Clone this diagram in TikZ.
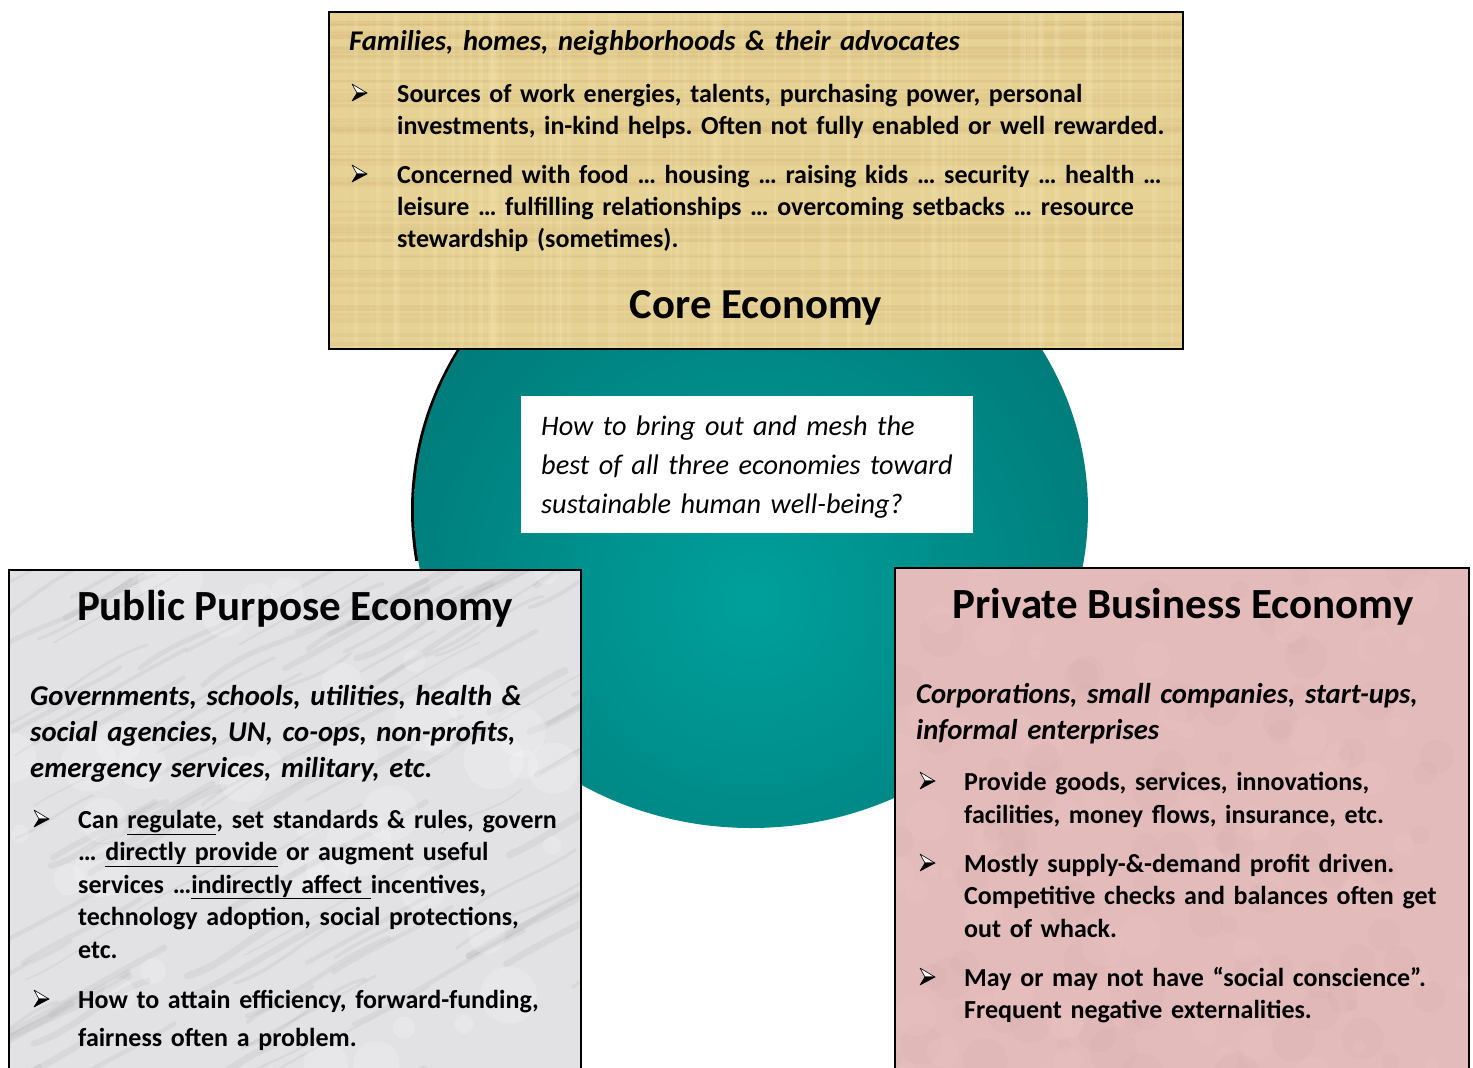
\documentclass[tikz,border=0pt]{standalone}
\usepackage{fontspec}
\setmainfont{Carlito}
\definecolor{papyrus}{RGB}{231,210,150}
\definecolor{papyrusdark}{RGB}{200,170,105}
\definecolor{papyruslight}{RGB}{245,230,180}
\definecolor{marble}{RGB}{226,226,228}
\definecolor{marblevein}{RGB}{140,140,145}
\definecolor{pinkpaper}{RGB}{228,187,187}
\definecolor{pinkdark}{RGB}{205,160,160}
\definecolor{pinklight}{RGB}{240,205,205}
\definecolor{tealdark}{RGB}{0,92,94}
\definecolor{teallight}{RGB}{0,160,155}
\frenchspacing
\begin{document}
\begin{tikzpicture}[x=1pt,y=-1pt,
  panel/.style={draw=black, line width=1.5pt},
  para/.style={anchor=base west, inner sep=0pt, align=left, text width=#1},
  title/.style={anchor=base, inner sep=0pt, font=\fontsize{43}{48}\selectfont\bfseries},
  btext/.style={font=\fontsize{26}{#1}\selectfont\bfseries},
  ihead/.style={font=\fontsize{28.7}{36}\selectfont\bfseries\itshape},
  pics/arrbul/.style={code={
    \draw[black, line width=0.6pt, line join=round, fill=white] (0,-18) -- (15,-9) -- (5,-9) -- cycle;
    \fill[black] (5,-9) -- (15,-9) -- (0,-1) -- cycle;
    \draw[black, line width=0.6pt, line join=round] (5,-9) -- (15,-9) -- (0,-1) -- cycle;
  }},
]
\useasboundingbox (0,0) rectangle (1473,1068);
\pgfmathsetseed{7}
% central disc
\begin{scope}
  \clip (0,0) rectangle (1473,560);
  \fill[black] (748,510) ellipse [x radius=337, y radius=318];
\end{scope}
\begin{scope}
  \clip (751,510) ellipse [x radius=337, y radius=318];
  \shade[inner color=teallight, outer color=tealdark] (752,600) circle (720);
\end{scope}
% question box
\fill[white] (521,396) rectangle (973,533);
\node[para=440pt, font=\fontsize{28.3}{39}\selectfont\itshape] (q) at (541,435)
  {How to bring out and mesh the\\best of all three economies toward\\sustainable human well-being?};

% core economy box
\fill[papyrus] (329,12) rectangle (1183,349);
\begin{scope}
  \clip (329,12) rectangle (1183,349);
  \foreach \i in {1,...,70} {
    \pgfmathsetmacro\ya{12+337*rnd}
    \pgfmathsetmacro\lw{1+4*rnd}
    \draw[papyrusdark, opacity=0.15, line width=\lw pt] (329,\ya) -- (1183,\ya);
  }
  \foreach \i in {1,...,90} {
    \pgfmathsetmacro\xa{329+854*rnd}
    \pgfmathsetmacro\lw{1+4*rnd}
    \draw[papyruslight, opacity=0.2, line width=\lw pt] (\xa,12) -- (\xa,349);
  }
\end{scope}
\draw[panel] (329,12) rectangle (1183,349);
\node[para=820pt, font=\fontsize{28.5}{30}\selectfont\bfseries\itshape] (fam) at (349,50)
  {Families, homes, neighborhoods \& their advocates};
\pic at (352,102) {arrbul};
\node[para=800pt, btext=32] (ct1) at (397,102)
  {Sources of work energies, talents, purchasing power, personal\\investments, in-kind helps. Often not fully enabled or well rewarded.};
\pic at (352,183) {arrbul};
\node[para=800pt, btext=32] (ct2) at (397,183)
  {Concerned with food … housing … raising kids … security … health …\\leisure … fulfilling relationships … overcoming setbacks … resource\\stewardship (sometimes).};
\node[anchor=base, inner sep=0pt, font=\fontsize{42.7}{48}\selectfont\bfseries] (core) at (756,318) {Core Economy};

% public purpose box
\fill[marble] (9,570) rectangle (581,1080);
\begin{scope}
  \clip (9,570) rectangle (581,1080);
  \foreach \i in {1,...,110} {
    \pgfmathsetmacro\xa{-60+660*rnd}
    \pgfmathsetmacro\ya{560+560*rnd}
    \pgfmathsetmacro\lw{1.5+6*rnd}
    \pgfmathsetmacro\ln{60+110*rnd}
    \pgfmathsetmacro\bw{0.25*rnd-0.12}
    \draw[marblevein, opacity=0.11, line width=\lw pt, line cap=round]
      (\xa,\ya) .. controls (\xa+0.35*\ln,\ya-0.2*\ln+\bw*\ln) and (\xa+0.65*\ln,\ya-0.35*\ln-\bw*\ln) .. (\xa+\ln,\ya-0.55*\ln);
  }
  \foreach \i in {1,...,40} {
    \pgfmathsetmacro\xa{9+572*rnd}
    \pgfmathsetmacro\ya{570+500*rnd}
    \pgfmathsetmacro\rr{8+25*rnd}
    \fill[white, opacity=0.2] (\xa,\ya) circle (\rr);
  }
\end{scope}
\draw[panel] (9,570) rectangle (581,1080);
\node[title] (pub) at (295,620) {Public Purpose Economy};
\node[para=560pt, ihead] (pubi) at (30,705)
  {Governments, schools, utilities, health \&\\social agencies, UN, co-ops, non-profits,\\emergency services, military, etc.};
\pic at (34,828) {arrbul};
\node[para=500pt, btext=32.5] (pt1) at (78,828)
  {Can \underline{regulate}, set standards \& rules, govern\\… \underline{directly provide} or augment useful\\services …\underline{indirectly affect\ }incentives,\\technology adoption, social protections,\\etc.};
\pic at (34,1008) {arrbul};
\node[para=500pt, btext=38] (pt2) at (78,1008)
  {How to attain efficiency, forward-funding,\\fairness often a problem.};

% private business box
\fill[pinkpaper] (895,568) rectangle (1469,1080);
\begin{scope}
  \clip (895,568) rectangle (1469,1080);
  \foreach \i in {1,...,90} {
    \pgfmathsetmacro\xa{895+574*rnd}
    \pgfmathsetmacro\ya{568+510*rnd}
    \pgfmathsetmacro\rr{6+18*rnd}
    \fill[pinkdark, opacity=0.11] (\xa,\ya) circle (\rr);
  }
  \foreach \i in {1,...,70} {
    \pgfmathsetmacro\xa{895+574*rnd}
    \pgfmathsetmacro\ya{568+510*rnd}
    \pgfmathsetmacro\rr{5+16*rnd}
    \fill[pinklight, opacity=0.16] (\xa,\ya) circle (\rr);
  }
\end{scope}
\draw[panel] (895,568) rectangle (1469,1080);
\node[title] (priv) at (1183,618) {Private Business Economy};
\node[para=550pt, ihead] (privi) at (916,703)
  {Corporations, small companies, start-ups,\\informal enterprises};
\pic at (920,790) {arrbul};
\node[para=500pt, btext=33] (rt1) at (964,790)
  {Provide goods, services, innovations,\\facilities, money flows, insurance, etc.};
\pic at (920,872) {arrbul};
\node[para=500pt, btext=32.5] (rt2) at (964,872)
  {Mostly supply-\&-demand profit driven.\\Competitive checks and balances often get\\out of whack.};
\pic at (920,986) {arrbul};
\node[para=500pt, btext=32] (rt3) at (964,986)
  {May or may not have “social conscience”.\\Frequent negative externalities.};
\end{tikzpicture}
\end{document}
